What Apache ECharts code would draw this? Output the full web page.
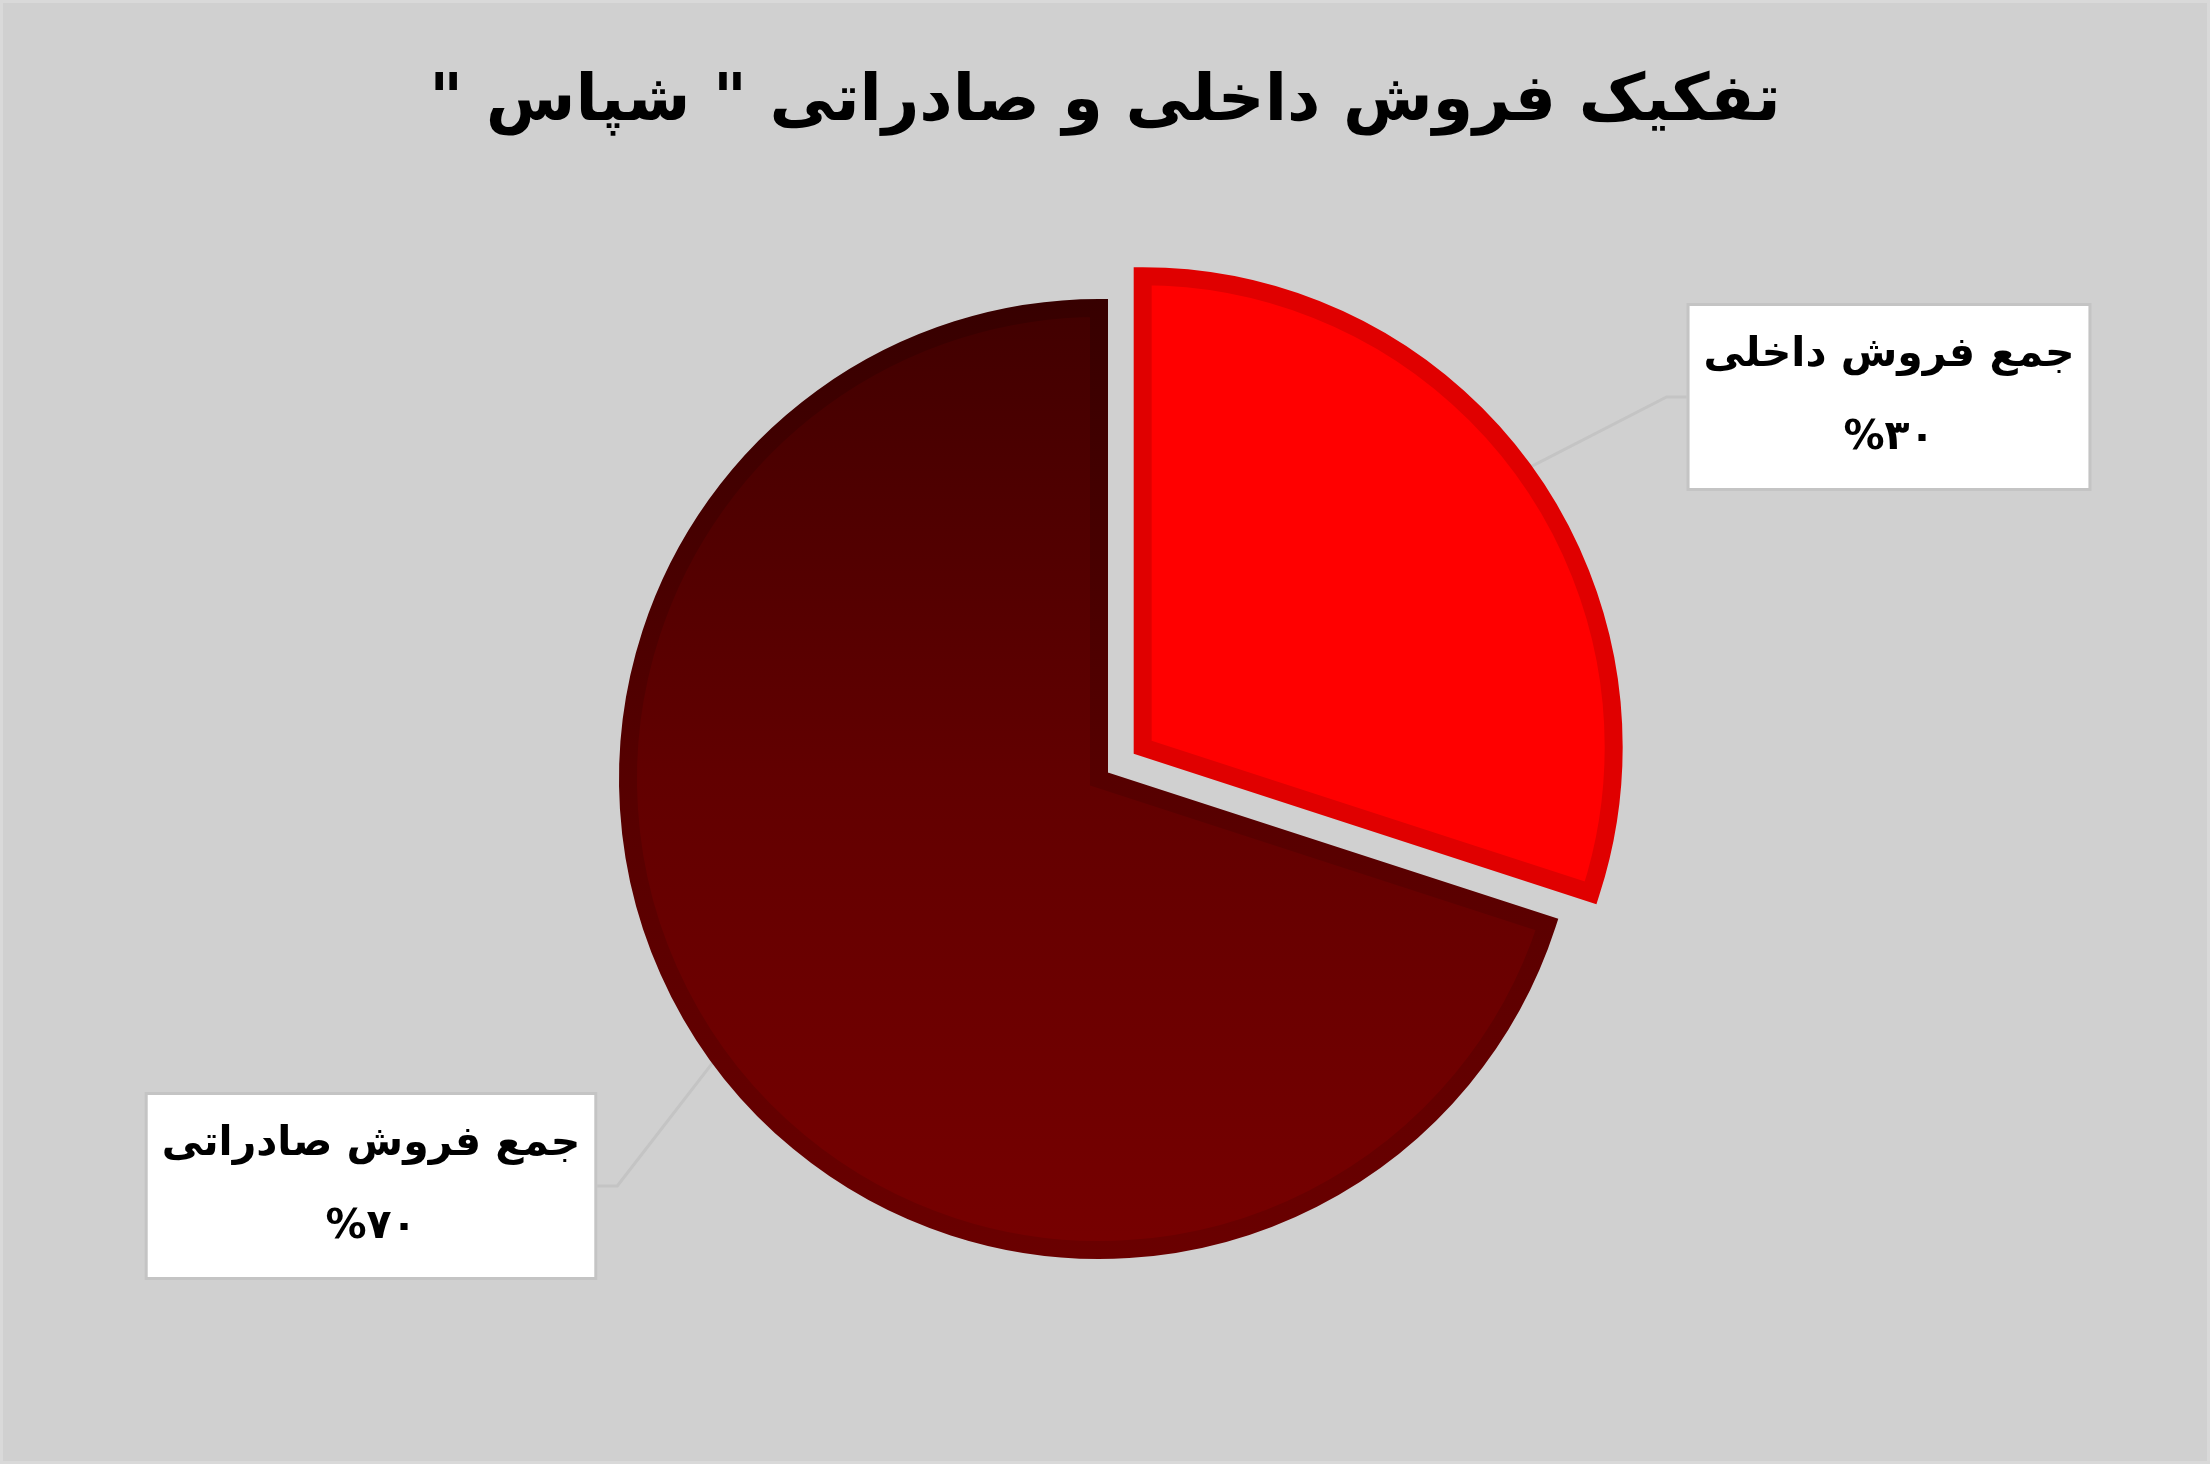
<!DOCTYPE html>
<html>
<head>
<meta charset="utf-8">
<script src="https://cdn.jsdelivr.net/npm/echarts@6/dist/echarts.min.js"></script>
<style>
html,body{margin:0;padding:0;background:#d0d0d0;}
#chart{width:2210px;height:1464px;}
</style>
</head>
<body>
<div id="chart"></div>
<script>
// ---- data ----
const titleText = 'تفکیک فروش داخلی و صادراتی " شپاس "';
const categories = ['جمع فروش داخلی', 'جمع فروش صادراتی'];
const values = [30, 70];

const toPersian = function (n) {
  const d = '۰۱۲۳۴۵۶۷۸۹';
  return String(n).replace(/[0-9]/g, function (c) { return d[+c]; });
};

const darkFill = {
  type: 'linear', x: 0, y: 0, x2: 0, y2: 1,
  colorStops: [
    { offset: 0, color: '#410000' },
    { offset: 0.5, color: '#620000' },
    { offset: 1, color: '#770000' }
  ]
};
const darkBorder = {
  type: 'linear', x: 0, y: 0, x2: 0, y2: 1,
  colorStops: [
    { offset: 0, color: '#370000' },
    { offset: 0.5, color: '#560000' },
    { offset: 1, color: '#6a0000' }
  ]
};
const fills = ['#ff0000', darkFill];
const borders = ['#e00000', darkBorder];
const labelCenters = [[1889, 397], [371, 1186]];

// layout: pie centre and the "exploded" offset of the first slice
const pieCenter = [1099, 779];
const explode = 54;
const total = values.reduce(function (a, b) { return a + b; }, 0);
const midAng = (values[0] / total) * Math.PI; // half of slice angle, from 12 o'clock clockwise
const explodedCenter = [pieCenter[0] + explode * Math.sin(midAng), pieCenter[1] - explode * Math.cos(midAng)];

const chart = echarts.init(document.getElementById('chart'), null, { renderer: 'canvas' });

function makeSeries(showIndex, center) {
  return {
    type: 'pie',
    center: center,
    radius: 471,
    startAngle: 90,
    clockwise: true,
    avoidLabelOverlap: false,
    silent: true,
    emphasis: { disabled: true },
    data: categories.map(function (name, i) {
      const on = i === showIndex;
      return {
        name: name,
        value: values[i],
        itemStyle: on ? {
          color: fills[i],
          borderColor: borders[i],
          borderWidth: 18,
          borderJoin: 'miter'
        } : { color: 'rgba(0,0,0,0)', borderWidth: 0 },
        label: { show: on },
        labelLine: { show: on }
      };
    }),
    label: {
      position: 'outside',
      formatter: function (p) {
        return '{n|' + p.name + '}\n{v|%' + toPersian(p.value) + '}';
      },
      backgroundColor: '#ffffff',
      borderColor: '#c4c4c4',
      borderWidth: 3,
      padding: [8, 14],
      rich: {
        n: { fontFamily: 'DejaVu Sans', fontSize: 41, fontWeight: 'bold', color: '#000', lineHeight: 83, align: 'center' },
        v: { fontFamily: 'DejaVu Sans', fontSize: 41, fontWeight: 'bold', color: '#000', lineHeight: 83, align: 'center' }
      }
    },
    labelLine: {
      length: 20,
      length2: 20,
      smooth: false,
      lineStyle: { color: '#c4c4c4', width: 3 }
    },
    labelLayout: function (params) {
      const c = labelCenters[params.dataIndex];
      return { x: c[0], y: c[1], align: 'center', verticalAlign: 'middle' };
    }
  };
}

const option = {
  animation: false,
  backgroundColor: '#d0d0d0',
  textStyle: { fontFamily: 'DejaVu Sans' },
  title: {
    text: '\u200F' + titleText + '\u200F',
    left: 'center',
    top: 66,
    textStyle: {
      fontFamily: 'DejaVu Sans',
      fontSize: 65,
      fontWeight: 'bold',
      color: '#000'
    }
  },
  graphic: [{
    type: 'rect',
    silent: true,
    shape: { x: 0, y: 0, width: 2210, height: 1464 },
    style: { fill: 'none', stroke: '#d9d9d9', lineWidth: 6 }
  }],
  series: [
    makeSeries(1, pieCenter),
    makeSeries(0, explodedCenter)
  ]
};
chart.setOption(option);
</script>
</body>
</html>
